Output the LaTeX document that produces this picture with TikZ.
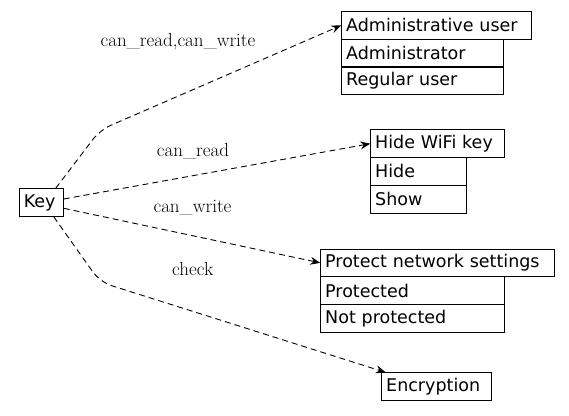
\documentclass[tikz,border=0pt]{standalone}
\usepackage{fontspec}
\newfontfamily\boxfont{DejaVu Sans}
\usetikzlibrary{arrows.meta}
\tikzset{
  cell/.style={draw, line width=0.9pt, rectangle, inner xsep=4.5pt, inner ysep=0pt,
    minimum height=27.7pt, align=left, font=\boxfont\fontsize{17.5}{20}\selectfont},
  lbl/.style={inner sep=0pt, font=\fontsize{19}{22}\selectfont},
  rel/.style={draw, line width=0.9pt, dash pattern=on 6pt off 4pt,
    -{Stealth[length=10pt,width=8pt,inset=3.5pt]}},
}
\begin{document}
\begin{tikzpicture}[x=1pt,y=-1pt]
\useasboundingbox (0,0) rectangle (569,415);
% key
\node[cell, text width=35pt] (key) at (41.3,202.5) {Key};
% admin
\node[cell, text width=181pt] (a0) at (436.7,25.35) {Administrative user};
\node[cell, text width=152.6pt] (a1) at (422.5,53) {Administrator};
\node[cell, text width=152.6pt] (a2) at (422.5,80.8) {Regular user};
% hide
\node[cell, text width=124.3pt] (h0) at (437.35,143.65) {Hide WiFi key};
\node[cell, text width=86.3pt] (h1) at (418.35,171.4) {Hide};
\node[cell, text width=86.3pt] (h2) at (418.35,199.2) {Show};
% protect
\node[cell, text width=224.3pt] (p0) at (437.35,262.85) {Protect network settings};
\node[cell, text width=174.6pt] (p1) at (412.5,290.6) {Protected};
\node[cell, text width=174.6pt] (p2) at (412.5,318.4) {Not protected};
% encryption
\node[cell, text width=101pt] (e0) at (436.7,386.7) {Encryption};
% bend points
\coordinate (b1) at (100,130);
\coordinate (b4) at (100,282);
% edges
\draw[rel, rounded corners=12pt] ([xshift=-8pt]key.north east) -- (b1) -- (a0.west);
\draw[rel] ([yshift=3.5pt]key.east) -- (h0.west);
\draw[rel] ([yshift=-5.8pt]key.east) -- (p0.west);
\draw[rel, rounded corners=12pt] ([xshift=-10pt]key.south east) -- (b4) -- ([xshift=4.5pt]e0.north west);
% labels
\node[lbl] (l1) at (178,42) {can\_read,can\_write};
\node[lbl] (l2) at (193,151) {can\_read};
\node[lbl] (l3) at (192.5,208) {can\_write};
\node[lbl] (l4) at (192.7,269) {check};
\end{tikzpicture}
\end{document}
